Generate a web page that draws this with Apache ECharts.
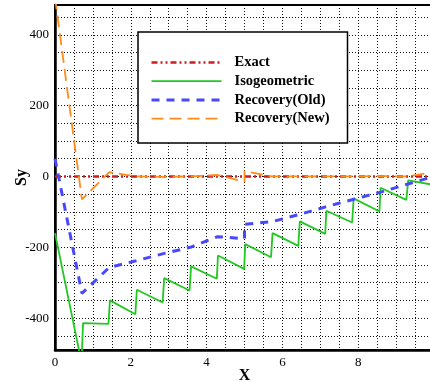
<!DOCTYPE html>
<html><head><meta charset="utf-8">
<script src="https://cdn.jsdelivr.net/npm/echarts@6/dist/echarts.min.js"></script>
<style>html,body{margin:0;padding:0;background:#fff}#c{width:430px;height:382px}</style>
</head><body><div id="c"></div>
<script>
// ---- data ----
const seriesNames = ['Exact', 'Isogeometric', 'Recovery(Old)', 'Recovery(New)'];

const exactX = [0, 10];
const exactY = [0, 0];

const isoX = [0, 0.70, 0.74, 1.41, 1.45, 2.12, 2.16, 2.84, 2.88, 3.55, 3.59, 4.27, 4.30, 4.99, 5.02, 5.70, 5.74, 6.42, 6.46, 7.13, 7.16, 7.84, 7.88, 8.56, 8.59, 9.27, 9.32, 10];
const isoY = [-160, -525, -414, -416, -350, -389, -320, -356, -287, -322, -254, -289, -223, -261, -191, -228, -160, -196, -127, -162, -97, -130, -62, -99, -32, -66, -11, -24];

const oldX = [0, 0.71, 1.43, 2.14, 2.86, 3.57, 4.29, 5.0, 5.0, 5.71, 6.43, 7.14, 7.86, 8.57, 9.29, 10];
const oldY = [50, -330, -257, -238, -218, -200, -170, -176, -135, -128, -108, -86, -65, -45, -22, 0];

const newX = [0, 0.71, 1.43, 2.14, 2.86, 3.57, 4.29, 5.0, 5.0, 5.71, 6.43, 7.14, 7.86, 8.57, 9.29, 10];
const newY = [505, -65, 12, 0, -1, 0, 4, -15, 15, 0, 0, 0, 0, 1, 0, 12];

const xTickLabels = [0, 2, 4, 6, 8];
const yTickLabels = [-400, -200, 0, 200, 400];
const yGridValues = [-450, -400, -350, -300, -250, -200, -150, -100, -50, 0, 50, 100, 150, 200, 250, 300, 350, 400, 450];

// ---- chart ----
const zip = (xs, ys) => xs.map((x, i) => [x, ys[i]]);
const serif = 'Liberation Serif, Times New Roman, serif';
const gridLine = { show: true, lineStyle: { color: '#111', width: 1, type: [1, 2] } };

const chart = echarts.init(document.getElementById('c'), null, { renderer: 'canvas' });
chart.setOption({
  animation: false,
  backgroundColor: '#fff',
  grid: { left: 55, right: -4, top: 5, bottom: 32, outerBoundsMode: 'none', containLabel: false,
          show: true, borderColor: '#000', borderWidth: 2, backgroundColor: 'transparent' },
  legend: {
    orient: 'vertical', left: 138, top: 32,
    padding: [23, 18, 17, 12], itemGap: 3.7, itemWidth: 70, itemHeight: 14,
    backgroundColor: '#fff', borderColor: '#000', borderWidth: 1.5,
    itemStyle: { opacity: 0 },
    lineStyle: { width: 'inherit' },
    textStyle: { fontFamily: serif, fontWeight: 'bold', fontSize: 14.5, color: '#000', padding: [0, 0, 0, 8] },
    data: seriesNames
  },
  xAxis: {
    type: 'value', min: 0, max: 10, interval: 0.5,
    name: 'X', nameLocation: 'middle', nameGap: 18, nameMoveOverlap: false,
    nameTextStyle: { fontFamily: serif, fontWeight: 'bold', fontSize: 16, color: '#000' },
    axisLine: { show: true, onZero: false, lineStyle: { color: '#000', width: 2.5 } },
    axisTick: { show: false },
    axisLabel: { customValues: xTickLabels, fontFamily: serif, fontSize: 13, color: '#000', margin: 6 },
    splitLine: gridLine
  },
  yAxis: {
    type: 'value', min: -490, max: 484,
    name: 'Sy', nameLocation: 'middle', nameGap: 25, nameMoveOverlap: false,
    nameTextStyle: { fontFamily: serif, fontWeight: 'bold', fontSize: 16, color: '#000' },
    axisLine: { show: true, onZero: false, lineStyle: { color: '#000', width: 2.5 } },
    axisTick: { show: false, customValues: yGridValues },
    axisLabel: { customValues: yTickLabels, fontFamily: serif, fontSize: 13, color: '#000', margin: 6 },
    splitLine: gridLine
  },
  series: [
    { name: seriesNames[0], type: 'line', data: zip(exactX, exactY), symbol: 'none', clip: true,
      lineStyle: { color: '#d01c1c', width: 2.5, type: [6, 3, 2, 3, 2, 3] }, itemStyle: { color: '#d01c1c' } },
    { name: seriesNames[1], type: 'line', data: zip(isoX, isoY), symbol: 'none', clip: true,
      lineStyle: { color: '#22c822', width: 1.8 }, itemStyle: { color: '#22c822' } },
    { name: seriesNames[2], type: 'line', data: zip(oldX, oldY), symbol: 'none', clip: true,
      lineStyle: { color: '#4848ff', width: 3, type: [8, 7] }, itemStyle: { color: '#4848ff' } },
    { name: seriesNames[3], type: 'line', data: zip(newX, newY), symbol: 'none', clip: true,
      lineStyle: { color: '#ff8c1a', width: 1.8, type: [12, 6] }, itemStyle: { color: '#ff8c1a' } }
  ]
});
</script>
</body></html>
